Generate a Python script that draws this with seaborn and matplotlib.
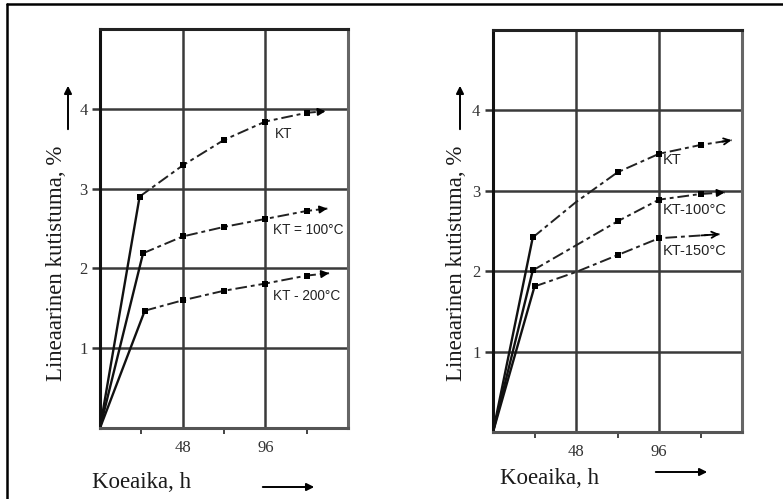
import matplotlib
matplotlib.use("Agg")
import matplotlib.pyplot as plt
from matplotlib.lines import Line2D
import numpy as np
import pandas as pd
import seaborn as sns

# ---------------- data ----------------
# left panel
left_kt_h = [0, 23, 48, 72, 96, 120]
left_kt = [0, 2.90, 3.29, 3.61, 3.84, 3.95]
left_kt_tip = (131, 3.97)

left_kt100_h = [0, 25, 48, 72, 96, 120]
left_kt100 = [0, 2.19, 2.40, 2.52, 2.62, 2.72]
left_kt100_tip = (132, 2.75)

left_kt200_h = [0, 26, 48, 72, 96, 120]
left_kt200 = [0, 1.47, 1.60, 1.72, 1.81, 1.91]
left_kt200_tip = (133, 1.94)

# right panel
right_kt_h = [0, 23, 48, 72, 96, 120]
right_kt = [0, 2.42, 2.86, 3.23, 3.46, 3.57]
right_kt_marks = [1, 3, 4, 5]
right_kt_tip = (138, 3.63)

right_kt100_h = [0, 23, 72, 96, 120]
right_kt100 = [0, 2.01, 2.62, 2.89, 2.96]
right_kt100_marks = [1, 2, 3, 4]
right_kt100_tip = (134, 2.98)

right_kt150_h = [0, 24, 48, 72, 96]
right_kt150 = [0, 1.81, 1.99, 2.20, 2.41]
right_kt150_marks = [1, 3, 4]
right_kt150_tip = (131, 2.46)

x_major = [48, 96]
x_major_labels = ["48", "96"]
x_minor = [24, 72, 120]
y_major = [1, 2, 3, 4]
y_major_labels = ["1", "2", "3", "4"]

ylabel = "Lineaarinen kutistuma, %"
xlabel = "Koeaika, h"

left_labels = ["KT", "KT = 100°C", "KT - 200°C"]
right_labels = ["KT", "KT-100°C", "KT-150°C"]

# ---------------- style ----------------
sns.set_theme(style="white")
plt.rcParams["font.family"] = ["Liberation Serif", "DejaVu Serif"]

W, H = 783, 499
fig = plt.figure(figsize=(W / 100, H / 100), dpi=100)


def fx(px):
    return px / W


def fy(py):
    return 1 - py / H


def make_axes(l, r, t, b):
    ax = fig.add_axes([fx(l), fy(b), fx(r) - fx(l), fy(t) - fy(b)])
    ax.set_xlim(0, 144)
    ax.set_ylim(0, 5)
    ax.set_xticks(x_major)
    ax.set_xticklabels(x_major_labels, fontsize=12, color="#333333")
    ax.set_xticks(x_minor, minor=True)
    ax.set_yticks(y_major)
    ax.set_yticklabels(y_major_labels, fontsize=12, color="#333333")
    ax.tick_params(axis="x", which="major", length=0, pad=9)
    ax.tick_params(axis="x", which="minor", length=4, width=1.4,
                   color="#444444", direction="out", bottom=True)
    ax.tick_params(axis="y", which="major", length=6, width=1.8,
                   color="#333333", direction="out", left=True, pad=3)
    ax.grid(True, which="major", color="#3a3a3a", lw=1.8)
    ax.set_axisbelow(True)
    for side, col in (("left", "#111111"), ("top", "#222222"),
                      ("right", "#666666"), ("bottom", "#555555")):
        ax.spines[side].set_visible(True)
        ax.spines[side].set_color(col)
        ax.spines[side].set_linewidth(2.2)
    return ax


def draw_series(ax, hrs, vals, tip, marks=None, head="-|>"):
    if marks is None:
        marks = list(range(1, len(hrs)))
    # solid rising part
    d0 = pd.DataFrame({"h": hrs[:2], "v": vals[:2]})
    sns.lineplot(data=d0, x="h", y="v", ax=ax, color="#111111", lw=1.7,
                 estimator=None, sort=False)
    # dashed continuation towards the arrow tip
    d1 = pd.DataFrame({"h": list(hrs[1:]) + [tip[0]],
                       "v": list(vals[1:]) + [tip[1]]})
    sns.lineplot(data=d1, x="h", y="v", ax=ax, color="#222222", lw=1.4,
                 linestyle=(0, (6, 2, 2, 2)), estimator=None, sort=False)
    dm = pd.DataFrame({"h": [hrs[i] for i in marks],
                       "v": [vals[i] for i in marks]})
    sns.scatterplot(data=dm, x="h", y="v", ax=ax, color="black", marker="s",
                    s=18, linewidth=0, zorder=5)
    # arrow head
    lx, ly = hrs[-1], vals[-1]
    sx = tip[0] - 0.3 * (tip[0] - lx)
    sy = tip[1] - 0.3 * (tip[1] - ly)
    ax.annotate("", xy=tip, xytext=(sx, sy),
                arrowprops=dict(arrowstyle=head, color="black", lw=1.3,
                                mutation_scale=11, shrinkA=0, shrinkB=0),
                annotation_clip=False)
    ax.set_xlabel("")
    ax.set_ylabel("")


# ---------------- left panel ----------------
axL = make_axes(100, 348, 29, 428)
draw_series(axL, left_kt_h, left_kt, left_kt_tip)
draw_series(axL, left_kt100_h, left_kt100, left_kt100_tip)
draw_series(axL, left_kt200_h, left_kt200, left_kt200_tip)

# ---------------- right panel ----------------
axR = make_axes(493, 742, 30, 432)
draw_series(axR, right_kt_h, right_kt, right_kt_tip, right_kt_marks, head="->")
draw_series(axR, right_kt100_h, right_kt100, right_kt100_tip, right_kt100_marks)
draw_series(axR, right_kt150_h, right_kt150, right_kt150_tip, right_kt150_marks, head="->")

# curve labels
lab_kw = dict(family=["Liberation Sans", "DejaVu Sans"],
              color="#222222", va="center", ha="left")
for txt, (px, py) in zip(left_labels, [(275, 134), (273, 230), (273, 296)]):
    fig.text(fx(px), fy(py), txt, fontsize=9.8, **lab_kw)
for txt, (px, py) in zip(right_labels, [(663, 160), (663, 210), (663, 251)]):
    fig.text(fx(px), fy(py), txt, fontsize=10.5, **lab_kw)

# axis titles with arrows
for cx, acx, cy in ((57, 68, 263), (457, 460, 263)):
    fig.text(fx(cx), fy(cy), ylabel, rotation=90, fontsize=16.5,
             ha="center", va="center", color="#1a1a1a")
    fig.add_artist(matplotlib.patches.FancyArrowPatch(
        (fx(acx), fy(132)), (fx(acx), fy(83)), transform=fig.transFigure,
        arrowstyle="-|>", mutation_scale=11, color="black", lw=1.4))

for lx, ly, a0, a1, ay in ((92, 482, 260, 317, 487), (500, 478, 653, 710, 472)):
    fig.text(fx(lx), fy(ly), xlabel, fontsize=16.5, ha="left", va="center",
             color="#1a1a1a")
    fig.add_artist(matplotlib.patches.FancyArrowPatch(
        (fx(a0), fy(ay)), (fx(a1), fy(ay)), transform=fig.transFigure,
        arrowstyle="-|>", mutation_scale=11, color="black", lw=1.4))

# outer frame (left and top edges)
fig.add_artist(Line2D([fx(7.5), fx(7.5)], [fy(4), 0], transform=fig.transFigure,
                      color="black", lw=1.8))
fig.add_artist(Line2D([fx(7.5), 1], [fy(4), fy(4)], transform=fig.transFigure,
                      color="black", lw=1.8))

fig.savefig("out.png", dpi=100)
